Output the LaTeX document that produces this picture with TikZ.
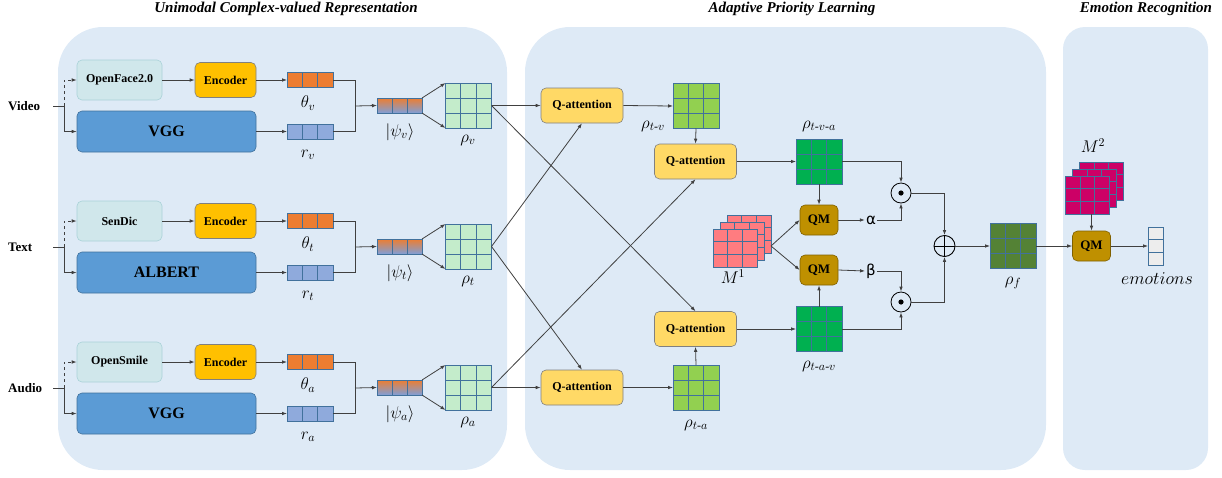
\RequirePackage{fix-cm}
\documentclass[tikz,border=0pt]{standalone}
\usepackage{fontspec}
\usepackage{amsmath}
\setmainfont{Liberation Serif}
\newfontfamily\dvsans{DejaVu Sans}
\usetikzlibrary{arrows.meta,calc}
\definecolor{panel}{HTML}{DEEAF6}
\definecolor{featfill}{HTML}{D0E7EB}
\definecolor{featdraw}{HTML}{A9D2D8}
\definecolor{encfill}{HTML}{FFC000}
\definecolor{bigfill}{HTML}{5B9BD5}
\definecolor{bigdraw}{HTML}{41719C}
\definecolor{qafill}{HTML}{FFD966}
\definecolor{qmfill}{HTML}{BF9000}
\definecolor{qmdraw}{HTML}{7F6000}
\definecolor{thfill}{HTML}{ED7D31}
\definecolor{rfill}{HTML}{8FAADC}
\definecolor{cellline}{HTML}{41719C}
\definecolor{mlight}{HTML}{C4ECCB}
\definecolor{mlime}{HTML}{92D050}
\definecolor{mgreen}{HTML}{00B050}
\definecolor{mdark}{HTML}{548235}
\definecolor{mpink}{HTML}{FF7C80}
\definecolor{mmag}{HTML}{CC0066}
\definecolor{mgray}{HTML}{EDEDED}
\definecolor{conncol}{HTML}{404040}
\definecolor{psitop}{HTML}{ED7D31}
\definecolor{psimid}{HTML}{E6D6D6}
\definecolor{psibot}{HTML}{7F9FD8}
\tikzset{
  conn/.style={draw=conncol, line width=0.8pt},
  arr/.style={conn, -{Latex[length=5pt,width=3.6pt]}},
  box/.style={draw, rounded corners=5pt, line width=0.6pt, align=center, inner sep=0pt,
    font=\fontsize{12}{14}\selectfont\bfseries},
  featbox/.style={box, fill=featfill, draw=featdraw, minimum width=85, minimum height=40},
  encbox/.style={box, fill=encfill, draw=gray, minimum width=61, minimum height=35},
  bigbox/.style={box, fill=bigfill, draw=bigdraw, minimum width=179, minimum height=41,
    font=\fontsize{16}{18}\selectfont\bfseries},
  qabox/.style={box, fill=qafill, draw=gray, minimum width=82, minimum height=35},
  qmbox/.style={box, fill=qmfill, draw=qmdraw, minimum width=38, minimum height=30,
    font=\fontsize{13}{15}\selectfont\bfseries},
  grid33/.style={path picture={
    \foreach \f in {0.3333,0.6667}{
      \draw[cellline, line width=0.8pt]
        ($(path picture bounding box.north west)!\f!(path picture bounding box.north east)$) --
        ($(path picture bounding box.south west)!\f!(path picture bounding box.south east)$);
      \draw[cellline, line width=0.8pt]
        ($(path picture bounding box.north west)!\f!(path picture bounding box.south west)$) --
        ($(path picture bounding box.north east)!\f!(path picture bounding box.south east)$);
    }}},
  gridh/.style={path picture={
    \foreach \f in {0.3333,0.6667}{
      \draw[cellline, line width=0.8pt]
        ($(path picture bounding box.north west)!\f!(path picture bounding box.north east)$) --
        ($(path picture bounding box.south west)!\f!(path picture bounding box.south east)$);
    }}},
  gridv/.style={path picture={
    \foreach \f in {0.3333,0.6667}{
      \draw[cellline, line width=0.8pt]
        ($(path picture bounding box.north west)!\f!(path picture bounding box.south west)$) --
        ($(path picture bounding box.north east)!\f!(path picture bounding box.south east)$);
    }}},
  mat/.style={draw=cellline, line width=0.8pt, fill=#1, minimum width=46, minimum height=45,
    inner sep=0pt, outer sep=0pt, grid33},
  smat/.style={mat=#1, minimum width=44, minimum height=38},
  hvec/.style={draw=cellline, line width=0.8pt, fill=#1, minimum width=46, minimum height=15,
    inner sep=0pt, outer sep=0pt, gridh},
  psivec/.style={draw=cellline, line width=0.8pt, top color=psitop, middle color=psimid,
    bottom color=psibot, minimum width=45, minimum height=15, inner sep=0pt, outer sep=0pt, gridh},
  vvec/.style={draw=cellline, line width=0.8pt, fill=#1, minimum width=15, minimum height=38,
    inner sep=0pt, outer sep=0pt, gridv},
  mlbl/.style={font=\fontsize{17}{20}\selectfont, inner sep=0pt},
  rowlbl/.style={font=\fontsize{13}{15}\selectfont\bfseries, inner sep=0pt, anchor=west},
  ttl/.style={font=\fontsize{15}{18}\selectfont\bfseries\itshape, inner sep=0pt},
  glbl/.style={font=\fontsize{15}{17}\selectfont\dvsans, inner sep=1pt},
  odotn/.style={circle, draw=black, line width=0.8pt, fill=panel, minimum size=20, inner sep=0pt,
    path picture={\fill[black] (path picture bounding box.center) circle (2.6pt);}},
  oplusn/.style={circle, draw=black, line width=0.9pt, fill=panel, minimum size=21, inner sep=0pt,
    path picture={\draw[black, line width=0.9pt] (path picture bounding box.north) -- (path picture bounding box.south)
      (path picture bounding box.west) -- (path picture bounding box.east);}}
}
\begin{document}
\begin{tikzpicture}[x=1pt,y=-1pt]
\useasboundingbox (0,0) rectangle (1222,477);
% panels
\fill[panel, rounded corners=45pt] (58,27) rectangle (507,470);
\fill[panel, rounded corners=45pt] (525,27) rectangle (1046,470);
\fill[panel, rounded corners=22pt] (1063,27) rectangle (1208,470);
% titles
\node[ttl] (t1) at (286,9) {Unimodal Complex-valued Representation};
\node[ttl] (t2) at (792,9) {Adaptive Priority Learning};
\node[ttl] (t3) at (1146,9) {Emotion Recognition};
% unimodal rows
\foreach \i/\lab/\ft/\bg/\s in {0/Video/OpenFace2.0/VGG/v,1/Text/SenDic/ALBERT/t,2/Audio/OpenSmile/VGG/a}{
  \pgfmathsetmacro\dy{141*\i}
  \node[rowlbl] (lab\s) at (8,106+\dy) {\lab};
  \coordinate (s\s) at (53,106+\dy);
  \coordinate (j\s) at (64,106+\dy);
  \node[featbox] (feat\s) at (119.5,80+\dy) {\ft};
  \node[encbox] (enc\s) at (225.5,80+\dy) {Encoder};
  \node[bigbox] (big\s) at (166.5,131.5+\dy) {\bg};
  \node[hvec=thfill] (th\s) at (310,80+\dy) {};
  \node[hvec=rfill] (r\s) at (310,131.5+\dy) {};
  \node[mlbl] at (308,103+\dy) {$\theta_\s$};
  \node[mlbl] at (308,155+\dy) {$r_\s$};
  \coordinate (m\s) at (355,106+\dy);
  \node[psivec] (psi\s) at (399.5,105.5+\dy) {};
  \node[mlbl] at (400,132+\dy) {$|\psi_\s\rangle$};
  \node[mlbl] (lr\s) at (468,140+\dy) {$\rho_\s$};
  \node[mat=mlight] (rho\s) at (468.5,105.5+\dy) {};
  \draw[conn] (s\s) -- (j\s);
  \draw[arr, dashed] (j\s) |- (feat\s.west);
  \draw[arr] (j\s) |- (big\s.west);
  \draw[arr] (feat\s.east) -- (enc\s.west);
  \draw[arr] (enc\s.east) -- (th\s.west);
  \draw[arr] (big\s.east) -- (r\s.west);
  \draw[conn] (th\s.east) -| (m\s);
  \draw[conn] (r\s.east) -| (m\s);
  \draw[arr] (m\s) -- (psi\s.west);
  \draw[arr] (psi\s.north east) -- (rho\s.north west);
  \draw[arr] (psi\s.south east) -- (rho\s.south west);
}
% adaptive priority learning
\node[qabox] (qa1) at (582,105.5) {Q-attention};
\node[mat=mlime] (rtv) at (696,106) {};
\node[mlbl] at (653,126) {$\rho_{t\text{-}v}$};
\node[qabox] (qa2) at (695.5,161.5) {Q-attention};
\node[mat=mgreen] (rtva) at (819,161.5) {};
\node[mlbl] at (819,126) {$\rho_{t\text{-}v\text{-}a}$};
\node[qmbox] (qm1) at (819,220) {QM};
\node[glbl] (al) at (871,220) {α};
\node[odotn] (od1) at (901,193) {};
\node[oplusn] (op) at (944.5,246) {};
\node[qmbox] (qm2) at (819,270) {QM};
\node[glbl] (be) at (871,271) {β};
\node[odotn] (od2) at (901,302) {};
\node[mat=mgreen] (rtav) at (819,329) {};
\node[mlbl] at (819,366) {$\rho_{t\text{-}a\text{-}v}$};
\node[qabox] (qa3) at (695.5,329) {Q-attention};
\node[qabox] (qa4) at (582,387.5) {Q-attention};
\node[mat=mlime] (rta) at (696,387.5) {};
\node[mlbl] at (696,425) {$\rho_{t\text{-}a}$};
% M1 stack
\node[smat=mpink] (m1c) at (749,234) {};
\node[smat=mpink] (m1b) at (742,241) {};
\node[smat=mpink] (m1a) at (735,248) {};
\node[mlbl] at (733,277) {$M^1$};
\coordinate (m1o) at (771,246);
% fused + emotion recognition
\node[mat=mdark] (rf) at (1013,246) {};
\node[mlbl] at (1013,283) {$\rho_f$};
\node[qmbox] (qm3) at (1091.5,246) {QM};
\node[smat=mmag] (m2c) at (1101.5,181) {};
\node[smat=mmag] (m2b) at (1094.5,188) {};
\node[smat=mmag] (m2a) at (1087.5,195) {};
\node[mlbl] at (1093,146) {$M^2$};
\node[vvec=mgray] (emo) at (1155.5,246) {};
\node[font=\fontsize{18}{21}\selectfont, inner sep=0pt] at (1157,279) {$emotions$};
% cross connections
\draw[arr] (rhov.east) -- (qa1.west);
\draw[arr] (rhov.east) -- (qa3.north);
\draw[arr] (rhot.east) -- (qa1.south);
\draw[arr] (rhot.east) -- (qa4.north);
\draw[arr] (rhoa.east) -- (qa4.west);
\draw[arr] (rhoa.east) -- (qa2.south);
% middle flow
\draw[arr] (qa1.east) -- (rtv.west);
\draw[arr] (rtv.south) -- (qa2.north);
\draw[arr] (qa2.east) -- (rtva.west);
\draw[arr] (rtva.south) -- (qm1.north);
\draw[arr] (m1o) -- (qm1.west);
\draw[arr] (m1o) -- (qm2.west);
\draw[arr] (qm1.east) -- (al.west);
\draw[arr] (al.east) -| (od1.south);
\draw[arr] (rtva.east) -| (od1.north);
\draw[arr] (od1.east) -| (op.north);
\draw[arr] (qa4.east) -- (rta.west);
\draw[arr] (rta.north) -- (qa3.south);
\draw[arr] (qa3.east) -- (rtav.west);
\draw[arr] (rtav.north) -- (qm2.south);
\draw[arr] (qm2.east) -- (be.west);
\draw[arr] (be.east) -| (od2.north);
\draw[arr] (rtav.east) -| (od2.south);
\draw[arr] (od2.east) -| (op.south);
\draw[arr] (op.east) -- (rf.west);
\draw[arr] (rf.east) -- (qm3.west);
\draw[arr] (qm3.north |- m2a.south) -- (qm3.north);
\draw[arr] (qm3.east) -- (emo.west);
\end{tikzpicture}
\end{document}
